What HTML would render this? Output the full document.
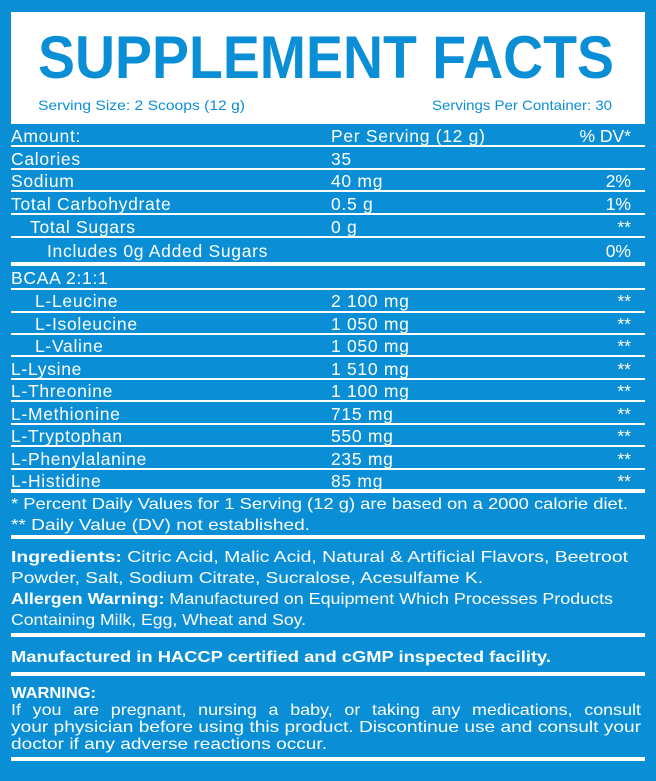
<!DOCTYPE html>
<html><head><meta charset="utf-8"><style>
html,body{margin:0;padding:0;background:#0a8fd6;}
svg{display:block}
text{font-family:"Liberation Sans",sans-serif;fill:#fff}
.r text{font-size:17.5px;letter-spacing:0.7px}
.r text.e{letter-spacing:0}
</style></head><body>
<svg width="656" height="781" viewBox="0 0 656 781" xmlns="http://www.w3.org/2000/svg" font-size="16">
<rect width="656" height="781" fill="#0a8fd6"/>
<rect x="11" y="12" width="634" height="112" fill="#fff"/>
<text x="38" y="78" style="fill:#0a8fd6;font-size:60px;font-weight:bold" textLength="576" lengthAdjust="spacingAndGlyphs">SUPPLEMENT FACTS</text>
<text x="38" y="110" style="fill:#0a8fd6;font-size:14px" textLength="207" lengthAdjust="spacingAndGlyphs">Serving Size: 2 Scoops (12 g)</text>
<text x="432" y="110" style="fill:#0a8fd6;font-size:14px" textLength="180" lengthAdjust="spacingAndGlyphs">Servings Per Container: 30</text>
<g fill="#fff">
<rect x="11" y="145" width="634" height="2"/>
<rect x="11" y="168" width="634" height="2"/>
<rect x="11" y="190" width="634" height="2"/>
<rect x="11" y="213" width="634" height="2"/>
<rect x="11" y="236" width="634" height="2"/>
<rect x="11" y="262" width="634" height="4"/>
<rect x="11" y="288" width="634" height="2"/>
<rect x="11" y="311" width="634" height="2"/>
<rect x="11" y="333" width="634" height="2"/>
<rect x="11" y="355" width="634" height="2"/>
<rect x="11" y="378" width="634" height="2"/>
<rect x="11" y="400" width="634" height="2"/>
<rect x="11" y="423" width="634" height="2"/>
<rect x="11" y="445" width="634" height="2"/>
<rect x="11" y="468" width="634" height="2"/>
<rect x="11" y="489" width="634" height="4"/>
<rect x="11" y="535" width="634" height="4"/>
<rect x="11" y="633" width="634" height="4"/>
<rect x="11" y="672" width="634" height="4"/>
<rect x="11" y="757" width="634" height="4"/>
</g>
<g class="r">
<text x="11" y="142">Amount:</text><text x="331" y="142">Per Serving (12 g)</text><text class="e" x="631" y="142" text-anchor="end">% DV*</text>
<text x="11" y="165">Calories</text><text x="331" y="165">35</text>
<text x="11" y="187">Sodium</text><text x="331" y="187">40 mg</text><text class="e" x="631" y="187" text-anchor="end">2%</text>
<text x="11" y="210">Total Carbohydrate</text><text x="331" y="210">0.5 g</text><text class="e" x="631" y="210" text-anchor="end">1%</text>
<text x="30" y="233">Total Sugars</text><text x="331" y="233">0 g</text><text class="e" x="631" y="233" text-anchor="end">**</text>
<text x="47" y="257">Includes 0g Added Sugars</text><text class="e" x="631" y="257" text-anchor="end">0%</text>
<text x="11" y="284">BCAA 2:1:1</text>
<text x="35" y="307">L-Leucine</text><text x="331" y="307">2 100 mg</text><text class="e" x="631" y="307" text-anchor="end">**</text>
<text x="35" y="330">L-Isoleucine</text><text x="331" y="330">1 050 mg</text><text class="e" x="631" y="330" text-anchor="end">**</text>
<text x="35" y="352">L-Valine</text><text x="331" y="352">1 050 mg</text><text class="e" x="631" y="352" text-anchor="end">**</text>
<text x="11" y="375">L-Lysine</text><text x="331" y="375">1 510 mg</text><text class="e" x="631" y="375" text-anchor="end">**</text>
<text x="11" y="397">L-Threonine</text><text x="331" y="397">1 100 mg</text><text class="e" x="631" y="397" text-anchor="end">**</text>
<text x="11" y="420">L-Methionine</text><text x="331" y="420">715 mg</text><text class="e" x="631" y="420" text-anchor="end">**</text>
<text x="11" y="442">L-Tryptophan</text><text x="331" y="442">550 mg</text><text class="e" x="631" y="442" text-anchor="end">**</text>
<text x="11" y="465">L-Phenylalanine</text><text x="331" y="465">235 mg</text><text class="e" x="631" y="465" text-anchor="end">**</text>
<text x="11" y="487">L-Histidine</text><text x="331" y="487">85 mg</text><text class="e" x="631" y="487" text-anchor="end">**</text>
</g>
<g>
<text x="11" y="509" textLength="617" lengthAdjust="spacingAndGlyphs">* Percent Daily Values for 1 Serving (12 g) are based on a 2000 calorie diet.</text>
<text x="11" y="530" textLength="299" lengthAdjust="spacingAndGlyphs">** Daily Value (DV) not established.</text>
<text x="11" y="562" textLength="617" lengthAdjust="spacingAndGlyphs"><tspan font-weight="bold">Ingredients:</tspan> Citric Acid, Malic Acid, Natural &amp; Artificial Flavors, Beetroot</text>
<text x="11" y="583" textLength="472" lengthAdjust="spacingAndGlyphs">Powder, Salt, Sodium Citrate, Sucralose, Acesulfame K.</text>
<text x="11" y="604" textLength="602" lengthAdjust="spacingAndGlyphs"><tspan font-weight="bold">Allergen Warning:</tspan> Manufactured on Equipment Which Processes Products</text>
<text x="11" y="625" textLength="295" lengthAdjust="spacingAndGlyphs">Containing Milk, Egg, Wheat and Soy.</text>
<text x="11" y="662" font-weight="bold" textLength="540" lengthAdjust="spacingAndGlyphs">Manufactured in HACCP certified and cGMP inspected facility.</text>
<text x="11" y="698" font-weight="bold" textLength="85" lengthAdjust="spacingAndGlyphs">WARNING:</text>
<text x="11" y="715" textLength="630" lengthAdjust="spacingAndGlyphs" word-spacing="6">If you are pregnant, nursing a baby, or taking any medications, consult</text>
<text x="11" y="732" textLength="630" lengthAdjust="spacingAndGlyphs">your physician before using this product. Discontinue use and consult your</text>
<text x="11" y="749" textLength="316" lengthAdjust="spacingAndGlyphs">doctor if any adverse reactions occur.</text>
</g>
</svg>
</body></html>
